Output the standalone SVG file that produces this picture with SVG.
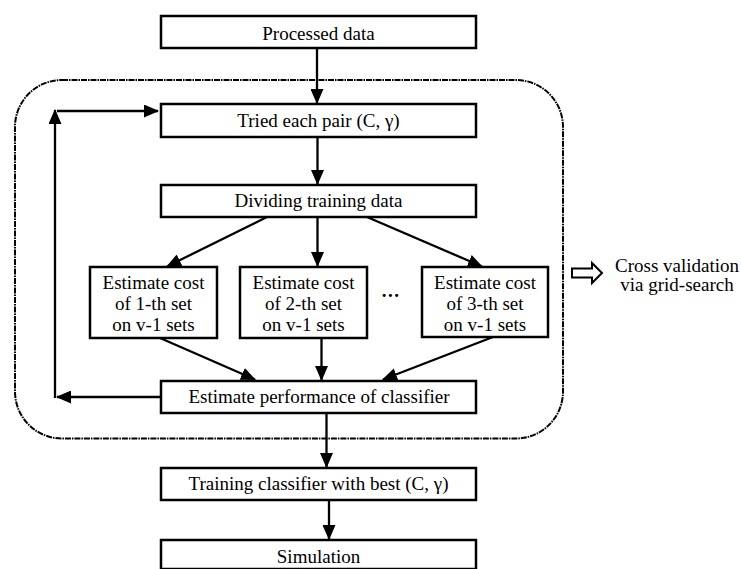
<svg xmlns="http://www.w3.org/2000/svg" width="741" height="569" viewBox="0 0 741 569">
<style>
  .box { fill: #fff; stroke: #000; stroke-width: 2.5; }
  .t { font-family: "Liberation Serif", "Times New Roman", serif; font-size: 19px; fill: #000; text-anchor: middle; }
  .c { fill: none; stroke: #000; stroke-width: 2.3; }
  .frame { fill: none; stroke: #000; stroke-width: 2; stroke-dasharray: 6 1 1.5 1; }
</style>
<defs>
  <marker id="ah" markerUnits="userSpaceOnUse" markerWidth="15" markerHeight="13" refX="14" refY="6.5" orient="auto">
    <path d="M0,0 L15,6.5 L0,13 Z" fill="#000"/>
  </marker>
</defs>
<rect x="15" y="80" width="548" height="358.5" rx="47" ry="47" class="frame"/>
<g id="connectors">
  <path class="c" d="M317,48 V103" marker-end="url(#ah)"/>
  <path class="c" d="M317.5,137 V184" marker-end="url(#ah)"/>
  <path class="c" d="M267,217 L167,266.5" marker-end="url(#ah)"/>
  <path class="c" d="M317.5,217 V266" marker-end="url(#ah)"/>
  <path class="c" d="M367,217 L482,266.5" marker-end="url(#ah)"/>
  <path class="c" d="M160,338 L255,379.5" marker-end="url(#ah)"/>
  <path class="c" d="M321.5,338 V380" marker-end="url(#ah)"/>
  <path class="c" d="M493,337 L383,379.5" marker-end="url(#ah)"/>
  <path class="c" d="M161,397 H57" marker-end="url(#ah)"/>
  <path class="c" d="M55,398 V110" marker-end="url(#ah)"/>
  <path class="c" d="M57,111 H158" marker-end="url(#ah)"/>
  <path class="c" d="M326.5,413 V467" marker-end="url(#ah)"/>
  <path class="c" d="M329,500 V539" marker-end="url(#ah)"/>
</g>
<g id="n-processed">
  <rect class="box" x="161" y="16" width="315" height="32"/>
  <text class="t" x="318.5" y="39.5">Processed data</text>
</g>
<g id="n-tried">
  <rect class="box" x="161" y="104" width="315" height="33"/>
  <text class="t" x="318.5" y="127">Tried each pair (C, γ)</text>
</g>
<g id="n-dividing">
  <rect class="box" x="161" y="185" width="315" height="32"/>
  <text class="t" x="318.5" y="207">Dividing training data</text>
</g>
<g id="n-set1">
  <rect class="box" x="90" y="267" width="127" height="71"/>
  <text class="t" x="153.5" y="288.5">Estimate cost</text>
  <text class="t" x="153.5" y="309.5">of 1-th set</text>
  <text class="t" x="153.5" y="331">on v-1 sets</text>
</g>
<g id="n-set2">
  <rect class="box" x="240" y="267" width="127" height="71"/>
  <text class="t" x="303.5" y="288.5">Estimate cost</text>
  <text class="t" x="303.5" y="309.5">of 2-th set</text>
  <text class="t" x="303.5" y="331">on v-1 sets</text>
</g>
<g id="n-dots">
  <text class="t" x="391" y="297" style="font-weight:bold;letter-spacing:1.5px">...</text>
</g>
<g id="n-set3">
  <rect class="box" x="422" y="267" width="126" height="70"/>
  <text class="t" x="485" y="288.5">Estimate cost</text>
  <text class="t" x="485" y="309.5">of 3-th set</text>
  <text class="t" x="485" y="331">on v-1 sets</text>
</g>
<g id="n-perf">
  <rect class="box" x="161" y="381" width="315" height="32"/>
  <text class="t" x="319" y="403">Estimate performance of classifier</text>
</g>
<g id="n-train">
  <rect class="box" x="161" y="468" width="315" height="32"/>
  <text class="t" x="318.5" y="490">Training classifier with best (C, γ)</text>
</g>
<g id="n-sim">
  <rect class="box" x="161" y="540" width="315" height="29"/>
  <text class="t" x="318.5" y="563">Simulation</text>
</g>
<g id="n-cv">
  <path d="M572,268.5 H592 V263 L602,273 L592,283 V277.5 H572 Z" fill="#fff" stroke="#000" stroke-width="2"/>
  <text class="t" x="677" y="272">Cross validation</text>
  <text class="t" x="677" y="291">via grid-search</text>
</g>
</svg>
